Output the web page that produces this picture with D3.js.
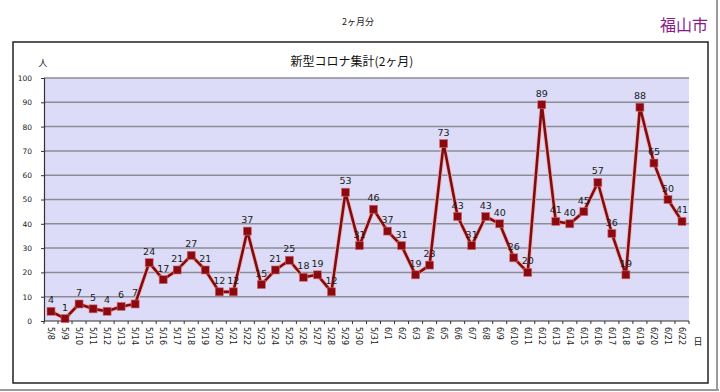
<!DOCTYPE html>
<html>
<head>
<meta charset="utf-8">
<script src="https://cdn.jsdelivr.net/npm/d3@7"></script>
<style>
  body { margin: 0; background: #fff; }
  svg { display: block; }
</style>
</head>
<body>
<div id="viz-container"></div>
<script>
let width = 720;
let height = 392;

// data
let dates = ['5/8','5/9','5/10','5/11','5/12','5/13','5/14','5/15','5/16','5/17','5/18','5/19','5/20','5/21',
  '5/22','5/23','5/24','5/25','5/26','5/27','5/28','5/29','5/30','5/31',
  '6/1','6/2','6/3','6/4','6/5','6/6','6/7','6/8','6/9','6/10','6/11','6/12','6/13','6/14','6/15','6/16',
  '6/17','6/18','6/19','6/20','6/21','6/22'];
let cases = [4,1,7,5,4,6,7,24,17,21,27,21,12,12,
  37,15,21,25,18,19,12,53,31,46,
  37,31,19,23,73,43,31,43,40,26,20,89,41,40,45,57,
  36,19,88,65,50,41];
let yTicks = [0,10,20,30,40,50,60,70,80,90,100];

let plot = {left: 44, right: 689, top: 78, bottom: 321};
let jp = '"Noto Sans CJK JP", "Noto Sans", sans-serif';

let viz = d3.select('#viz-container')
  .append('svg')
  .attr('width', width)
  .attr('height', height);

viz.append('rect').attr('width', width).attr('height', height).attr('fill', '#fff');

// outer shadow edges
viz.append('line').attr('x1', 0).attr('x2', 719).attr('y1', 390).attr('y2', 390)
  .attr('stroke', '#9a9a9a').attr('stroke-width', 2);
viz.append('line').attr('x1', 717).attr('x2', 717).attr('y1', 0).attr('y2', 391)
  .attr('stroke', '#9a9a9a').attr('stroke-width', 2);

// chart frame
viz.append('rect')
  .attr('x', 13).attr('y', 42).attr('width', 695).attr('height', 341)
  .attr('fill', 'none').attr('stroke', '#222').attr('stroke-width', 1.5);

viz.append('text').text('2ヶ月分')
  .attr('x', 358).attr('y', 25).attr('text-anchor', 'middle')
  .attr('font-size', 9).attr('font-family', jp).attr('fill', '#222');

viz.append('text').text('福山市')
  .attr('x', 708).attr('y', 31).attr('text-anchor', 'end')
  .attr('font-size', 16).attr('font-family', jp).attr('fill', '#8a1a8a');

viz.append('text').text('新型コロナ集計(2ヶ月)')
  .attr('x', 352).attr('y', 66).attr('text-anchor', 'middle')
  .attr('font-size', 12).attr('font-family', jp).attr('fill', '#111');

viz.append('text').text('人')
  .attr('x', 43).attr('y', 66).attr('text-anchor', 'middle')
  .attr('font-size', 9).attr('font-family', jp).attr('fill', '#222');

viz.append('text').text('日')
  .attr('x', 698).attr('y', 345).attr('text-anchor', 'middle')
  .attr('font-size', 9).attr('font-family', jp).attr('fill', '#222');

let xBand = d3.scaleBand().domain(dates).range([plot.left, plot.right]);
let yScale = d3.scaleLinear().domain([0, 100]).range([plot.bottom, plot.top]);
let xPos = d => xBand(d) + xBand.bandwidth() / 2;

// plot background
viz.append('rect')
  .attr('x', plot.left).attr('y', plot.top)
  .attr('width', plot.right - plot.left).attr('height', plot.bottom - plot.top)
  .attr('fill', '#dcdcf8');

// gridlines
viz.selectAll('.grid').data(yTicks.filter(d => d > 0)).enter()
  .append('line')
  .attr('class', 'grid')
  .attr('x1', plot.left).attr('x2', plot.right)
  .attr('y1', d => yScale(d)).attr('y2', d => yScale(d))
  .attr('stroke', '#8c8c96').attr('stroke-width', 1.5);

// y axis
let yAxis = d3.axisLeft(yScale).tickValues(yTicks).tickSize(3).tickPadding(9);
let yG = viz.append('g').attr('transform', 'translate(' + plot.left + ',0)').call(yAxis);
yG.select('.domain').attr('stroke', '#333').attr('stroke-width', 1.2);
yG.selectAll('.tick line').attr('stroke', '#333');
yG.selectAll('text').attr('font-size', 7.5).attr('font-family', 'DejaVu Sans, sans-serif')
  .attr('fill', '#222');

// x axis: ticks on band boundaries
let xG = viz.append('g').attr('transform', 'translate(0,' + plot.bottom + ')');
xG.append('line').attr('x1', plot.left).attr('x2', plot.right)
  .attr('stroke', '#333').attr('stroke-width', 1.2);
let bounds = dates.map(d => xBand(d)).concat([plot.right]);
xG.selectAll('.xtick').data(bounds).enter()
  .append('line')
  .attr('x1', d => d).attr('x2', d => d)
  .attr('y1', 0).attr('y2', 3)
  .attr('stroke', '#333');
xG.selectAll('.xlabel').data(dates).enter()
  .append('text')
  .text(d => d)
  .attr('transform', d => 'translate(' + (xPos(d) - 3) + ',6) rotate(90)')
  .attr('font-size', 8)
  .attr('font-family', 'DejaVu Sans, sans-serif')
  .attr('fill', '#222');

let line = d3.line()
  .x((d, i) => xPos(dates[i]))
  .y(d => yScale(d));

// soft halo then the line
viz.append('path').datum(cases)
  .attr('d', line).attr('fill', 'none')
  .attr('stroke', '#f2b6b6').attr('stroke-width', 4.5).attr('stroke-linejoin', 'round');
viz.append('path').datum(cases)
  .attr('d', line).attr('fill', 'none')
  .attr('stroke', '#7e0c12').attr('stroke-width', 2.6).attr('stroke-linejoin', 'round');

viz.selectAll('.marker').data(cases).enter()
  .append('rect')
  .attr('class', 'marker')
  .attr('x', (d, i) => xPos(dates[i]) - 4)
  .attr('y', d => yScale(d) - 4)
  .attr('width', 8).attr('height', 8)
  .attr('fill', '#8a0a12')
  .attr('stroke', '#d86a6a').attr('stroke-width', 0.6);

viz.selectAll('.valueText').data(cases).enter()
  .append('text')
  .text(d => d)
  .attr('x', (d, i) => xPos(dates[i]))
  .attr('y', d => yScale(d) - 8)
  .attr('text-anchor', 'middle')
  .attr('font-size', 9.5)
  .attr('font-family', 'DejaVu Sans, sans-serif')
  .attr('fill', '#1a1a1a');
</script>
</body>
</html>
